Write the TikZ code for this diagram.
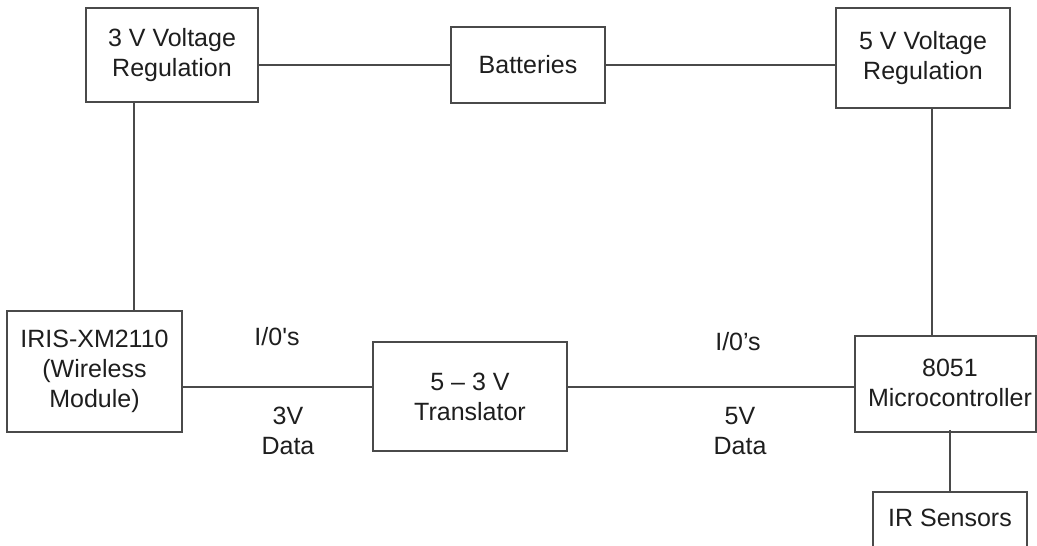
\documentclass[tikz,border=0pt]{standalone}
\usepackage{fontspec}
\setmainfont{Liberation Sans}
\newfontfamily\rawfont{Liberation Sans}[Ligatures=TeXOff]
\definecolor{linec}{HTML}{4A4A4A}
\definecolor{textc}{HTML}{1E1E1E}
\begin{document}
\begin{tikzpicture}[x=1pt,y=-1pt,
  blk/.style={draw=linec, line width=1.6pt, fill=white, align=center, text=textc,
    font=\fontsize{25}{30}\selectfont, inner sep=0pt},
  lbl/.style={align=center, text=textc, font=\fontsize{25}{30}\selectfont, inner sep=0pt},
  wire/.style={draw=linec, line width=1.6pt}]
\useasboundingbox (0,0) rectangle (1037,546);
\clip (0,0) rectangle (1037,546);
\fill[white] (0,0) rectangle (1037,546);
% blocks
\node[blk, minimum width=172pt, minimum height=94pt] (v3) at (172,55) {3 V Voltage\\Regulation};
\node[blk, minimum width=154pt, minimum height=76pt] (bat) at (528,65) {Batteries};
\node[blk, minimum width=174pt, minimum height=100pt] (v5) at (923,58) {5 V Voltage\\Regulation};
\node[blk, minimum width=175pt, minimum height=121pt] (iris) at (94.5,371.5) {IRIS-XM2110\\(Wireless\\Module)};
\node[blk, minimum width=194pt, minimum height=109pt] (tr) at (470,396.5) {5 -- 3 V\\Translator};
\node[blk, minimum width=181pt, minimum height=96pt] (mc) at (945.5,384) {};
\node[lbl] (mct) at (950,383) {8051\\Microcontroller};
\node[blk, minimum width=154pt, minimum height=62pt] (ir) at (950,523) {};
\node[lbl] (irt) at (950,518) {IR Sensors};
% connectors
\draw[wire] (v3.east |- bat.west) -- (bat.west);
\draw[wire] (bat.east) -- (bat.east -| v5.west);
\draw[wire] ([xshift=-38pt]v3.south) -- ([xshift=-38pt]v3.south |- iris.north);
\draw[wire] ([xshift=9pt]v5.south) -- ([xshift=9pt]v5.south |- mc.north);
\draw[wire] ([yshift=3pt]mc.south -| ir.north) -- (ir.north);
\coordinate (yl) at (0,387);
\draw[wire] (iris.east |- yl) -- (tr.west |- yl);
\draw[wire] (tr.east |- yl) -- (mc.west |- yl);
% labels
\node[lbl] (l1) at (277,337) {\rawfont I/0's};
\node[lbl] (l2) at (288,431) {3V\\Data};
\node[lbl] (l3) at (738,342) {I/0’s};
\node[lbl] (l4) at (740,431) {5V\\Data};
\end{tikzpicture}
\end{document}
